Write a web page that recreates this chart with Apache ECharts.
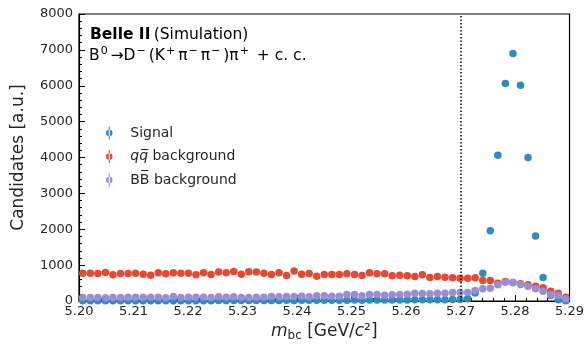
<!DOCTYPE html>
<html>
<head>
<meta charset="utf-8">
<script src="https://cdn.jsdelivr.net/npm/echarts@6/dist/echarts.min.js"></script>
<style>
  html, body { margin: 0; padding: 0; background: #fff; }
  #chart { width: 587px; height: 347px; }
</style>
</head>
<body>
<div id="chart"></div>
<script>
// bin centres of m_bc [GeV/c^2]
var mbc = [
  5.20069, 5.20208, 5.20346, 5.20485, 5.20623, 5.20762, 5.20900, 5.21038, 5.21177, 5.21315,
  5.21454, 5.21592, 5.21731, 5.21869, 5.22008, 5.22146, 5.22285, 5.22423, 5.22562, 5.22700,
  5.22838, 5.22977, 5.23115, 5.23254, 5.23392, 5.23531, 5.23669, 5.23808, 5.23946, 5.24085,
  5.24223, 5.24362, 5.24500, 5.24638, 5.24777, 5.24915, 5.25054, 5.25192, 5.25331, 5.25469,
  5.25608, 5.25746, 5.25885, 5.26023, 5.26162, 5.26300, 5.26438, 5.26577, 5.26715, 5.26854,
  5.26992, 5.27131, 5.27269, 5.27408, 5.27546, 5.27685, 5.27823, 5.27962, 5.28100, 5.28238,
  5.28377, 5.28515, 5.28654, 5.28792, 5.28931
]

var signal = [
  4, 5, 4, 6, 5, 4, 6, 5, 7, 6,
  6, 8, 7, 6, 9, 8, 10, 9, 11, 10,
  12, 13, 12, 15, 14, 16, 15, 18, 17, 19,
  18, 21, 20, 22, 24, 23, 25, 24, 27, 26,
  28, 30, 29, 31, 33, 32, 35, 34, 38, 40,
  45, 61, 225, 777, 1959, 4062, 6063, 6901, 6017, 3997,
  1810, 656, 154, 33, 10
]

var qqbar = [
  777, 777, 768, 796, 731, 768, 768, 777, 749, 721,
  787, 759, 787, 777, 777, 731, 787, 740, 805, 787,
  824, 749, 814, 805, 777, 740, 787, 712, 833, 749,
  768, 693, 740, 740, 740, 759, 740, 712, 787, 759,
  759, 703, 721, 703, 684, 731, 656, 684, 665, 647,
  637, 637, 647, 572, 572, 498, 544, 517, 479, 451,
  414, 368, 274, 219, 107
]

var bbbar = [
  98, 98, 98, 89, 98, 98, 107, 107, 107, 107,
  107, 89, 126, 98, 107, 107, 107, 98, 116, 107,
  116, 98, 98, 107, 107, 126, 116, 126, 126, 135,
  116, 144, 144, 135, 135, 181, 181, 144, 181, 181,
  163, 172, 181, 190, 219, 210, 200, 219, 219, 237,
  237, 237, 293, 340, 358, 451, 526, 507, 461, 414,
  340, 274, 181, 154, 61
]

var seriesNames = ['Signal', 'qq', 'BB']
var colors = ['#348ABD', '#E24A33', '#988ED5']
var yTicks = { min: 0, max: 8000, interval: 1000 }
var xTicks = { min: 5.20, max: 5.29, interval: 0.01 }
var cutValue = 5.27

function pairs (ys) {
  return mbc.map(function (x, i) { return [x, ys[i]] })
}

var font = 'DejaVu Sans'
var errIcon = 'path://M2,6 A3,3 0 1,0 8,6 A3,3 0 1,0 2,6 Z M4.5,0 H5.5 V12 H4.5 Z'

var myChart = echarts.init(document.getElementById('chart'))
myChart.setOption({
  animation: false,
  textStyle: { fontFamily: font },
  grid: {
    left: 79,
    right: 15,
    top: 14,
    bottom: 46,
    show: true,
    borderColor: '#000',
    borderWidth: 1.2
  },
  xAxis: {
    type: 'value',
    min: xTicks.min,
    max: xTicks.max,
    interval: xTicks.interval,
    name: '{i|m}{sub|bc}{n| [GeV/}{i|c}{n|²]}',
    nameLocation: 'middle',
    nameGap: 20,
    nameTextStyle: {
      rich: {
        i: { fontSize: 17, fontStyle: 'italic', color: '#262626', fontFamily: font },
        n: { fontSize: 17, color: '#262626', fontFamily: font },
        sub: { fontSize: 12, color: '#262626', fontFamily: font, padding: [8, 0, 0, 0] }
      }
    },
    axisLine: { show: true, lineStyle: { color: '#000', width: 1.2 } },
    axisTick: { show: true, inside: true, length: 6, lineStyle: { color: '#000' } },
    minorTick: { show: true, splitNumber: 5, length: 3, lineStyle: { color: '#000' } },
    splitLine: { show: false },
    axisLabel: {
      fontSize: 13,
      color: '#262626',
      margin: 4,
      formatter: function (v) { return v.toFixed(2) }
    }
  },
  yAxis: {
    type: 'value',
    min: yTicks.min,
    max: yTicks.max,
    interval: yTicks.interval,
    name: 'Candidates [a.u.]',
    nameLocation: 'middle',
    nameGap: 52,
    nameTextStyle: { fontSize: 17, color: '#262626' },
    axisLine: { show: true, lineStyle: { color: '#000', width: 1.2 } },
    axisTick: { show: true, inside: true, length: 6, lineStyle: { color: '#000' } },
    minorTick: { show: true, splitNumber: 5, length: 3, lineStyle: { color: '#000' } },
    splitLine: { show: false },
    axisLabel: {
      fontSize: 13,
      color: '#262626',
      margin: 6,
      formatter: function (v) { return String(v) }
    }
  },
  legend: {
    orient: 'vertical',
    left: 101,
    top: 121,
    itemWidth: 32,
    itemHeight: 13,
    itemGap: 9.5,
    icon: errIcon,
    itemStyle: { borderWidth: 0 },
    selectedMode: false,
    data: seriesNames,
    formatter: function (name) {
      if (name === 'qq') return '{i|q}{i|q\u0305}{n| background}'
      if (name === 'BB') return '{n|BB\u0305 background}'
      return '{n|' + name + '}'
    },
    textStyle: {
      fontSize: 14,
      color: '#262626',
      rich: {
        i: { fontSize: 14, fontStyle: 'italic', color: '#262626', fontFamily: font },
        n: { fontSize: 14, color: '#262626', fontFamily: font }
      }
    }
  },
  graphic: [
    {
      type: 'text',
      left: 90,
      top: 27,
      style: {
        text: '{b|Belle II} {n|(Simulation)}',
        rich: {
          b: { fontSize: 15.5, fontWeight: 'bold', fill: '#000', fontFamily: font },
          n: { fontSize: 15.5, fill: '#000', fontFamily: font }
        }
      }
    },
    {
      type: 'text',
      left: 89,
      top: 43,
      style: {
        text: '{n|B}{s|0}{n|→D}{s|−}{n|(K}{s|+}{n|π}{s|−}{n|π}{s|−}{n|)π}{s|+}{n| + c. c.}',
        rich: {
          n: { fontSize: 15.5, lineHeight: 21, verticalAlign: 'bottom', fill: '#000', fontFamily: font },
          s: { fontSize: 11, lineHeight: 21, verticalAlign: 'top', fill: '#000', fontFamily: font, padding: [3, 3, 0, 1] }
        }
      }
    }
  ],
  series: [
    {
      name: 'Signal',
      type: 'scatter',
      data: pairs(signal),
      symbol: 'circle',
      symbolSize: 7.5,
      itemStyle: { color: colors[0], opacity: 1 },
      markLine: {
        silent: true,
        symbol: 'none',
        label: { show: false },
        lineStyle: { color: '#000', type: [1.5, 2], width: 1.5 },
        data: [{ xAxis: cutValue }]
      }
    },
    {
      name: 'qq',
      type: 'scatter',
      data: pairs(qqbar),
      symbol: 'circle',
      symbolSize: 7.5,
      itemStyle: { color: colors[1], opacity: 1 }
    },
    {
      name: 'BB',
      type: 'scatter',
      data: pairs(bbbar),
      symbol: 'circle',
      symbolSize: 7.5,
      itemStyle: { color: colors[2], opacity: 1 }
    }
  ]
})
</script>
</body>
</html>
